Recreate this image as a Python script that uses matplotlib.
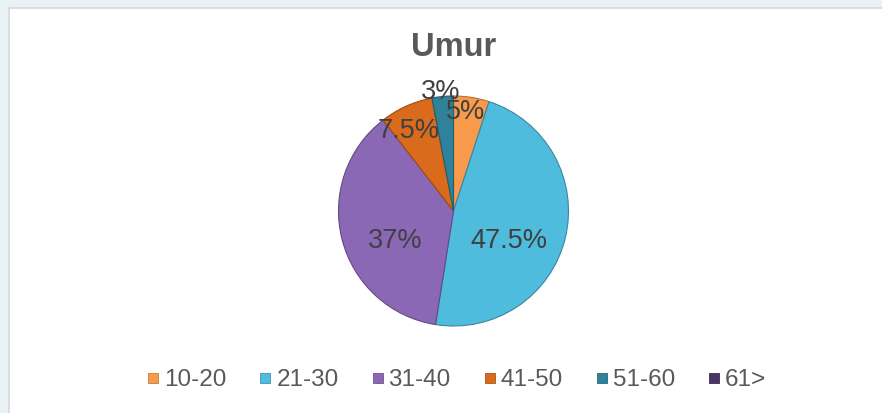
import numpy as np
import matplotlib.pyplot as plt
from matplotlib.lines import Line2D
from matplotlib.patches import Rectangle
import matplotlib.colors as mcolors

plt.rcParams['font.family'] = ['Liberation Sans', 'DejaVu Sans']

# data
kategori = ['10-20', '21-30', '31-40', '41-50', '51-60', '61>']
persen = [5, 47.5, 37, 7.5, 3, 0]
label_teks = ['5%', '47.5%', '37%', '7.5%', '3%', '']
warna = ['#F79A4C', '#4FBBDD', '#8A68B5', '#DA6A1C', '#2F8299', '#4A3468']

# label placement (fraction of radius, angle tweak in degrees)
label_r = [0.87, 0.55, 0.57, 0.80, 1.04]
label_dtheta = [2, -14.5, 13, 5, 1]

fig = plt.figure(figsize=(8.82, 4.13), dpi=100, facecolor='#EAF3F3')
W, H = 882, 413

# white chart area with a thin grey frame
fig.patches.append(Rectangle((9 / W, -0.01), 1.0, (413 - 8) / H + 0.01,
                             transform=fig.transFigure, facecolor='white',
                             edgecolor='#D4D8D8', linewidth=1.2, zorder=-5))

R = 115
cx, cy = 453.5, 413 - 211
ax = fig.add_axes([(cx - R) / W, (cy - R) / H, 2 * R / W, 2 * R / H])
ax.set_zorder(2)

vals = [p for p in persen if p > 0]
cols = [c for p, c in zip(persen, warna) if p > 0]
edges = [tuple(np.array(mcolors.to_rgb(c)) * 0.72) for c in cols]
wedges, _ = ax.pie(vals, colors=cols, startangle=90, counterclock=False,
                   radius=1, wedgeprops=dict(linewidth=0.8))
for w, e in zip(wedges, edges):
    w.set_edgecolor(e)
ax.set_xlim(-1.0, 1.0)
ax.set_ylim(-1.0, 1.0)
ax.axis('off')

for i, w in enumerate(wedges):
    th = np.deg2rad((w.theta1 + w.theta2) / 2 + label_dtheta[i])
    ax.text(label_r[i] * np.cos(th), label_r[i] * np.sin(th), label_teks[i],
            ha='center', va='center', fontsize=19.5, color='#404040')

fig.text(cx / W, (413 - 48) / H, 'Umur', ha='center', va='center',
         fontsize=23.5, fontweight='bold', color='#595959', zorder=3)

handles = [Line2D([], [], marker='s', linestyle='none', markersize=7,
                  markerfacecolor=c,
                  markeredgecolor=tuple(np.array(mcolors.to_rgb(c)) * 0.8),
                  markeredgewidth=0.6) for c in warna]
leg = fig.legend(handles, kategori, loc='center', ncol=6,
                 bbox_to_anchor=(456 / W, (413 - 380) / H), frameon=False,
                 fontsize=17.5, handlelength=0.6, handletextpad=0.15,
                 columnspacing=1.3, borderpad=0)
leg.set_zorder(3)
for t in leg.get_texts():
    t.set_color('#595959')

fig.savefig('out.png', dpi=100, facecolor=fig.get_facecolor())
